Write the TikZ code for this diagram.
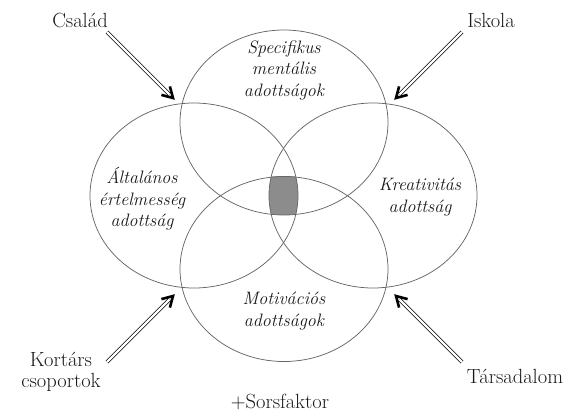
\documentclass[tikz,border=0pt]{standalone}
\usetikzlibrary{shapes.geometric,calc}
\begin{document}
\begin{tikzpicture}[x=1pt,y=-1pt,
  ring/.style={ellipse,draw=black!60,line width=0.75pt,minimum width=208pt,minimum height=185pt,inner sep=0pt},
  lab/.style={font=\fontsize{18}{21.5}\selectfont\itshape,align=center,inner sep=0pt,text=black!90},
  src/.style={font=\fontsize{20.5}{21}\selectfont,align=center,inner sep=0pt,text=black!90},
  shaft/.style={draw=black,line width=0.7pt,double=white,double distance=2.4pt,shorten >=5pt},
  barb/.style={draw=black,line width=2.6pt,line join=miter}]
\useasboundingbox (0,0) rectangle (571,413);
% intersection shading
\begin{scope}
  \clip (284,122.5) ellipse [x radius=104,y radius=92.5];
  \clip (284,269) ellipse [x radius=104,y radius=93];
  \clip (194,195.5) ellipse [x radius=104,y radius=92.5];
  \clip (373,195.5) ellipse [x radius=104,y radius=92.5];
  \fill[black!45] (150,100) rectangle (420,300);
\end{scope}
\node[ring] (top) at (284,122.5) {};
\node[ring] (bot) at (284,269) {};
\node[ring] (lft) at (194,195.5) {};
\node[ring] (rgt) at (373,195.5) {};
% labels
\node[lab] (tl) at (284,70) {Specifikus\\mentális\\adottságok};
\node[lab] (ll) at (142,199) {Általános\\értelmesség\\adottság};
\node[lab] (rl) at (420,197) {Kreativitás\\adottság};
\node[lab] (bl) at (284,311) {Motivációs\\adottságok};
% sources
\node[src] (csa) at (80,20) {Család};
\node[src] (isk) at (491,20) {Iskola};
\node[src] (kor) at (61,372) {Kortárs\\csoportok};
\node[src] (tar) at (515,376) {Társadalom};
\node[src] (sor) at (280,402) {+Sorsfaktor};
% arrow geometry
\coordinate (s1) at (107,32);  \coordinate (t1) at (173,98);
\coordinate (s2) at (462,32);  \coordinate (t2) at (396,98);
\coordinate (s3) at (107,362); \coordinate (t3) at (173,296);
\coordinate (s4) at (462,362); \coordinate (t4) at (396,296);
\foreach \i in {1,2,3,4}{
  \draw[shaft] (s\i) -- (t\i);
  \draw[barb] ($(t\i)!12pt!30:(s\i)$) -- (t\i) -- ($(t\i)!12pt!-30:(s\i)$);
}
\end{tikzpicture}
\end{document}
